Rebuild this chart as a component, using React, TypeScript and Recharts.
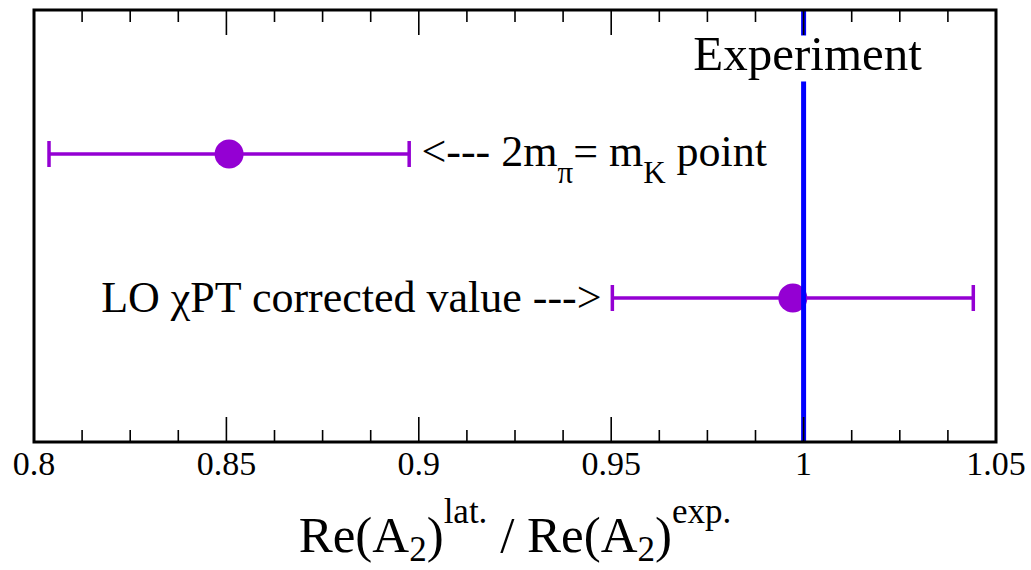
import React from "react";
import {
  ComposedChart,
  Scatter,
  XAxis,
  YAxis,
  ErrorBar,
  ReferenceLine,
  ReferenceArea,
  ReferenceDot,
  Label,
} from "recharts";

// measured ratios Re(A2)^lat / Re(A2)^exp
const POINT_LABELS = ["2m_pi = m_K point", "LO chiPT corrected value"];
const RATIO = [0.8507, 0.9972];
const RATIO_ERR = [0.0468, 0.0469];
const ROW = [2, 1];
const EXPERIMENT = 1.0;

const MAJOR_TICKS = [0.8, 0.85, 0.9, 0.95, 1, 1.05];
const MINOR_TICKS = [
  0.8125, 0.825, 0.8375, 0.8625, 0.875, 0.8875, 0.9125, 0.925, 0.9375,
  0.9625, 0.975, 0.9875, 1.0125, 1.025, 1.0375,
];
const ALL_TICKS = [...MAJOR_TICKS, ...MINOR_TICKS].sort((a, b) => a - b);

const data = RATIO.map((r, i) => ({
  name: POINT_LABELS[i],
  x: r,
  y: ROW[i],
  err: RATIO_ERR[i],
}));

const FONT = "Liberation Serif, Times New Roman, serif";
const PURPLE = "#9400D3";
const PLOT_H = 432;

const isMajor = (v: number) => MAJOR_TICKS.some((m) => Math.abs(m - v) < 1e-9);

// bottom ticks (inside the frame) plus the mirrored ones on the top edge
const FrameTick = (props: any) => {
  const { x, y, payload } = props;
  const major = isMajor(payload.value);
  const len = major ? 25 : 12;
  const top = y - PLOT_H;
  return (
    <g>
      <line x1={x} x2={x} y1={y} y2={y - len} stroke="#000" strokeWidth={1.6} />
      <line x1={x} x2={x} y1={top} y2={top + len} stroke="#000" strokeWidth={1.6} />
      {major && (
        <text x={x} y={y + 33} textAnchor="middle" fontFamily={FONT} fontSize={34} fill="#000">
          {String(payload.value)}
        </text>
      )}
    </g>
  );
};

const AxisTitle = (props: any) => {
  const vb = props.viewBox || {};
  const cx = vb.x + vb.width / 2;
  const base = vb.y + 110;
  return (
    <text x={cx} y={base} textAnchor="middle" fontFamily={FONT} fontSize={51} fill="#000">
      <tspan>Re(A</tspan>
      <tspan fontSize={35} dy={9}>2</tspan>
      <tspan dy={-9}>)</tspan>
      <tspan fontSize={35} dy={-29}>lat.</tspan>
      <tspan dy={29}> / Re(A</tspan>
      <tspan fontSize={35} dy={9}>2</tspan>
      <tspan dy={-9}>)</tspan>
      <tspan fontSize={35} dy={-29}>exp.</tspan>
    </text>
  );
};

const Dot = (props: any) => <circle cx={props.cx} cy={props.cy} r={14.5} fill={PURPLE} />;

const ExperimentLabel = (props: any) => {
  const vb = props.viewBox || {};
  const cx = vb.x + (vb.width || 0) / 2;
  const cy = vb.y + (vb.height || 0) / 2;
  return (
    <g>
      <rect x={cx - 118} y={cy - 35} width={236} height={46} fill="#fff" />
      <text x={cx + 4} y={cy} textAnchor="middle" fontFamily={FONT} fontSize={49} fill="#000">
        Experiment
      </text>
    </g>
  );
};

const LeftArrowLabel = (props: any) => {
  const vb = props.viewBox || {};
  const x = vb.x + (vb.width || 0) / 2;
  const y = vb.y + (vb.height || 0) / 2;
  return (
    <text x={x} y={y + 12} textAnchor="start" fontFamily={FONT} fontSize={44} fill="#000">
      <tspan>{"<--- 2m"}</tspan>
      <tspan fontSize={31} dy={17}>π</tspan>
      <tspan dy={-17}>= m</tspan>
      <tspan fontSize={31} dy={17}>K</tspan>
      <tspan dy={-17}> point</tspan>
    </text>
  );
};

const RightArrowLabel = (props: any) => {
  const vb = props.viewBox || {};
  const x = vb.x + (vb.width || 0) / 2;
  const y = vb.y + (vb.height || 0) / 2;
  return (
    <text x={x} y={y + 14} textAnchor="end" fontFamily={FONT} fontSize={44} fill="#000">
      LO χPT corrected value ---&gt;
    </text>
  );
};

export default function App() {
  return (
    <div style={{ position: "absolute", left: 0, top: 0, background: "#fff" }}>
      <ComposedChart
        width={1031}
        height={570}
        data={data}
        margin={{ top: 10, right: 35, left: 34, bottom: 0 }}
      >
        <XAxis
          xAxisId="bottom"
          dataKey="x"
          type="number"
          domain={[0.8, 1.05]}
          ticks={ALL_TICKS}
          interval={0}
          tick={<FrameTick />}
          tickLine={false}
          tickSize={0}
          tickMargin={0}
          axisLine={false}
          height={128}
        >
          <Label content={<AxisTitle />} />
        </XAxis>
        <YAxis yAxisId="y" type="number" domain={[0, 3]} hide />
        <Scatter
          xAxisId="bottom"
          yAxisId="y"
          dataKey="y"
          shape={<Dot />}
          isAnimationActive={false}
        >
          <ErrorBar dataKey="err" direction="x" width={13} stroke={PURPLE} strokeWidth={3.5} />
        </Scatter>
        <ReferenceLine
          xAxisId="bottom"
          yAxisId="y"
          x={EXPERIMENT}
          stroke="#0000FF"
          strokeWidth={5}
          zIndex={700}
        />
        <ReferenceDot
          xAxisId="bottom"
          yAxisId="y"
          x={EXPERIMENT}
          y={2.58}
          r={0}
          fill="none"
          stroke="none"
          zIndex={800}
          label={<ExperimentLabel />}
        />
        <ReferenceDot
          xAxisId="bottom"
          yAxisId="y"
          x={0.9007}
          y={ROW[0]}
          r={0}
          fill="none"
          stroke="none"
          label={<LeftArrowLabel />}
        />
        <ReferenceDot
          xAxisId="bottom"
          yAxisId="y"
          x={0.9475}
          y={ROW[1]}
          r={0}
          fill="none"
          stroke="none"
          label={<RightArrowLabel />}
        />
        <ReferenceArea
          xAxisId="bottom"
          yAxisId="y"
          x1={0.8}
          x2={1.05}
          y1={0}
          y2={3}
          fill="none"
          stroke="#000"
          strokeWidth={3}
          zIndex={900}
        />
      </ComposedChart>
    </div>
  );
}
